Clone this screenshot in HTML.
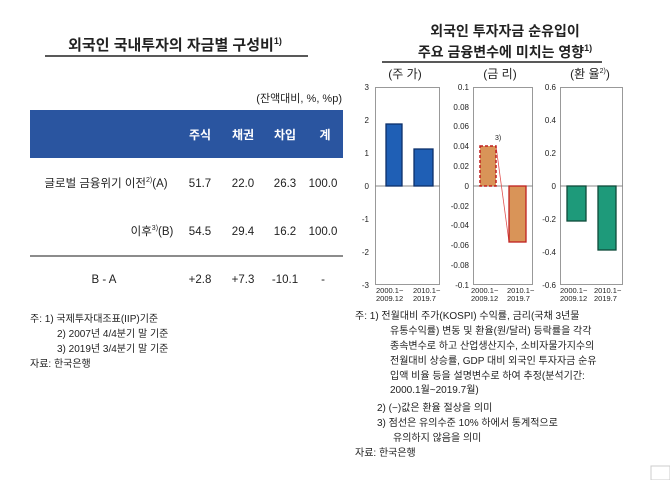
<!DOCTYPE html><html><head><meta charset="utf-8"><style>
body{margin:0;background:#fff}
svg{display:block}
text{font-family:"Liberation Sans","Noto Sans CJK KR",sans-serif;fill:#222}
</style></head><body>
<svg width="670" height="480" viewBox="0 0 670 480">
<text x="175" y="50" font-size="15" font-weight="bold" text-anchor="middle">외국인 국내투자의 자금별 구성비<tspan font-size="9" dy="-6">1)</tspan></text>
<line x1="45" y1="56" x2="308" y2="56" stroke="#222" stroke-width="1.5"/>
<text x="342" y="102" font-size="11" text-anchor="end">(잔액대비, %, %p)</text>
<rect x="30" y="110" width="313" height="48" fill="#2a55a0"/>
<g font-size="12" font-weight="bold" text-anchor="middle">
<text x="200" y="139" style="fill:#fff">주식</text><text x="243" y="139" style="fill:#fff">채권</text><text x="285" y="139" style="fill:#fff">차입</text><text x="325" y="139" style="fill:#fff">계</text></g>
<g font-size="11.5" text-anchor="middle">
<text x="106" y="187">글로벌 금융위기 이전<tspan font-size="7" dy="-5">2)</tspan><tspan dy="5">(A)</tspan></text>
<text x="200" y="187">51.7</text><text x="243" y="187">22.0</text><text x="285" y="187">26.3</text><text x="323" y="187">100.0</text>
<text x="152" y="235">이후<tspan font-size="7" dy="-5">3)</tspan><tspan dy="5">(B)</tspan></text>
<text x="200" y="235">54.5</text><text x="243" y="235">29.4</text><text x="285" y="235">16.2</text><text x="323" y="235">100.0</text>
<text x="104" y="283">B - A</text>
<text x="200" y="283">+2.8</text><text x="243" y="283">+7.3</text><text x="285" y="283">-10.1</text><text x="323" y="283">-</text></g>
<line x1="30" y1="256" x2="343" y2="256" stroke="#666" stroke-width="1.5"/>
<g font-size="10">
<text x="30" y="322">주:  1) 국제투자대조표(IIP)기준</text>
<text x="57" y="337">2) 2007년 4/4분기 말 기준</text>
<text x="57" y="352">3) 2019년 3/4분기 말 기준</text>
<text x="30" y="367">자료: 한국은행</text></g>

<text x="505" y="36" font-size="14" font-weight="bold" text-anchor="middle">외국인 투자자금 순유입이</text>
<text x="505" y="57" font-size="14" font-weight="bold" text-anchor="middle">주요 금융변수에 미치는 영향<tspan font-size="9" dy="-6">1)</tspan></text>
<line x1="382" y1="62" x2="602" y2="62" stroke="#222" stroke-width="1.5"/>
<g font-size="12" text-anchor="middle">
<text x="405" y="78">(주 가)</text><text x="500" y="78">(금 리)</text><text x="590" y="78">(환 율<tspan font-size="7" dy="-5">2)</tspan><tspan dy="5">)</tspan></text></g>

<g font-size="8" text-anchor="end" style="fill:#444">
<text x="369" y="90">3</text><text x="369" y="123">2</text><text x="369" y="156">1</text><text x="369" y="189">0</text><text x="369" y="222">-1</text><text x="369" y="255">-2</text><text x="369" y="288">-3</text>
<text x="469" y="90">0.1</text><text x="469" y="110">0.08</text><text x="469" y="129">0.06</text><text x="469" y="149">0.04</text><text x="469" y="169">0.02</text><text x="469" y="189">0</text><text x="469" y="209">-0.02</text><text x="469" y="228">-0.04</text><text x="469" y="248">-0.06</text><text x="469" y="268">-0.08</text><text x="469" y="288">-0.1</text>
<text x="556" y="90">0.6</text><text x="556" y="123">0.4</text><text x="556" y="156">0.2</text><text x="556" y="189">0</text><text x="556" y="222">-0.2</text><text x="556" y="255">-0.4</text><text x="556" y="288">-0.6</text></g>
<g fill="none" stroke="#999" stroke-width="1">
<rect x="375.5" y="87.5" width="64" height="197"/>
<rect x="473.5" y="87.5" width="59" height="197"/>
<rect x="560.5" y="87.5" width="62" height="197"/></g>
<g stroke="#888"><line x1="375" y1="186" x2="440" y2="186"/><line x1="473" y1="186" x2="533" y2="186"/><line x1="560" y1="186" x2="623" y2="186"/></g>
<rect x="386" y="124" width="16" height="62" fill="#1f5fb5" stroke="#0d2f6a" stroke-width="1.3"/>
<rect x="414" y="149" width="19" height="37" fill="#1f5fb5" stroke="#0d2f6a" stroke-width="1.3"/>
<line x1="496" y1="146" x2="509" y2="242" stroke="#e05050" stroke-width="0.8"/>
<rect x="480" y="146" width="16" height="40" fill="#d99458" stroke="#c02020" stroke-width="1.5" stroke-dasharray="3,2"/>
<rect x="509" y="186" width="17" height="56" fill="#d99458" stroke="#c02020" stroke-width="1.3"/>
<text x="495" y="140" font-size="7">3)</text>
<rect x="567" y="186" width="19" height="35" fill="#1e9a7a" stroke="#0e4a3a" stroke-width="1.3"/>
<rect x="598" y="186" width="18" height="64" fill="#1e9a7a" stroke="#0e4a3a" stroke-width="1.3"/>
<g font-size="7.5" style="fill:#444">
<text x="376" y="293">2000.1~</text><text x="376" y="301">2009.12</text>
<text x="413" y="293">2010.1~</text><text x="413" y="301">2019.7</text>
<text x="471" y="293">2000.1~</text><text x="471" y="301">2009.12</text>
<text x="507" y="293">2010.1~</text><text x="507" y="301">2019.7</text>
<text x="560" y="293">2000.1~</text><text x="560" y="301">2009.12</text>
<text x="594" y="293">2010.1~</text><text x="594" y="301">2019.7</text></g>
<g font-size="10">
<text x="355" y="319">주: 1) 전월대비 주가(KOSPI) 수익률, 금리(국채 3년물</text>
<text x="390" y="334">유통수익률) 변동 및 환율(원/달러) 등락률을 각각</text>
<text x="390" y="349">종속변수로 하고 산업생산지수, 소비자물가지수의</text>
<text x="390" y="364">전월대비 상승률, GDP 대비 외국인 투자자금 순유</text>
<text x="390" y="379">입액 비율 등을 설명변수로 하여 추정(분석기간:</text>
<text x="390" y="393">2000.1월~2019.7월)</text>
<text x="377" y="411">2) (−)값은 환율 절상을 의미</text>
<text x="377" y="426">3) 점선은 유의수준 10% 하에서 통계적으로</text>
<text x="393" y="441">유의하지 않음을 의미</text>
<text x="355" y="456">자료: 한국은행</text></g>
<rect x="651" y="466" width="19" height="14" fill="none" stroke="#ccc"/>
</svg></body></html>
